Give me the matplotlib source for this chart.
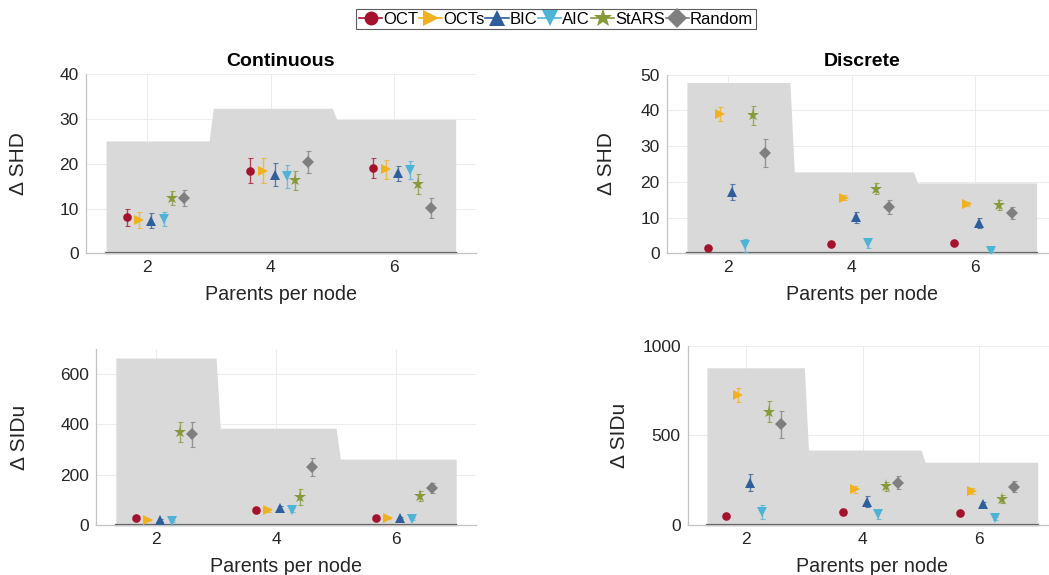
import numpy as np
import matplotlib
matplotlib.use("Agg")
import matplotlib.pyplot as plt
from matplotlib.lines import Line2D

plt.rcParams["font.family"] = ["Liberation Sans", "DejaVu Sans"]

methods = ["OCT", "OCTs", "BIC", "AIC", "StARS", "Random"]
colors = ["#A5122E", "#EFB21E", "#2E5E9C", "#4DB4D6", "#879A3A", "#7F7F7F"]
markers = ["o", ">", "^", "v", "*", "D"]
offsets = [-0.335, -0.13, 0.065, 0.265, 0.395, 0.6]

parents = [2, 4, 6]

# gray envelope (max per parent count)
env_x = [1.33, 3.0, 3.07, 5.0, 5.07, 7.0]
cont_shd_env = [25.1, 32.4, 29.9]
disc_shd_env = [47.8, 22.8, 19.7]
cont_sid_env = [664, 385, 262]
disc_sid_env = [877, 418, 350]

# rows: methods, cols: parents 2, 4, 6
cont_shd = [[8.1, 18.4, 19.1],
            [7.4, 18.4, 18.8],
            [7.3, 17.6, 17.9],
            [7.6, 17.2, 18.6],
            [12.4, 16.3, 15.5],
            [12.4, 20.4, 10.2]]
cont_shd_err = [[1.9, 2.8, 2.2],
                [1.8, 2.8, 2.1],
                [1.7, 2.5, 1.7],
                [1.6, 2.5, 2.1],
                [1.6, 2.1, 2.2],
                [1.8, 2.4, 2.2]]

disc_shd = [[1.4, 2.7, 2.8],
            [39.0, 15.6, 13.8],
            [17.1, 10.1, 8.4],
            [2.2, 2.8, 0.7],
            [38.6, 18.1, 13.5],
            [28.1, 13.0, 11.3]]
disc_shd_err = [[0.3, 0.3, 0.3],
                [1.9, 0.8, 0.6],
                [2.2, 1.5, 1.4],
                [1.9, 1.3, 0.4],
                [2.7, 1.5, 1.4],
                [3.8, 1.9, 1.8]]

cont_sid = [[27, 58, 27],
            [20, 58, 27],
            [20, 66, 28],
            [16, 58, 23],
            [369, 111, 115],
            [361, 230, 146]]
cont_sid_err = [[5, 10, 5],
                [4, 8, 4],
                [4, 10, 4],
                [4, 8, 4],
                [40, 33, 20],
                [50, 35, 20]]

disc_sid = [[50, 72, 69],
            [725, 199, 190],
            [236, 130, 115],
            [74, 61, 37],
            [632, 217, 145],
            [562, 236, 214]]
disc_sid_err = [[8, 15, 8],
                [40, 18, 15],
                [47, 30, 15],
                [40, 25, 8],
                [60, 25, 20],
                [75, 35, 30]]

W, H = 1049, 575
fig = plt.figure(figsize=(W / 100, H / 100), dpi=100)


def px_axes(left, bottom_px, right, top_px):
    return fig.add_axes([left / W, 1 - bottom_px / H, (right - left) / W, (bottom_px - top_px) / H])


panels = [
    (px_axes(85.7, 253.3, 476, 74.3), cont_shd, cont_shd_err, cont_shd_env, (0, 40), [0, 10, 20, 30, 40],
     "\u0394 SHD", "Continuous", -0.148),
    (px_axes(666.6, 253.3, 1057, 74.7), disc_shd, disc_shd_err, disc_shd_env, (0, 50), [0, 10, 20, 30, 40, 50],
     "\u0394 SHD", "Discrete", -0.13),
    (px_axes(96, 525, 476, 349), cont_sid, cont_sid_err, cont_sid_env, (0, 700), [0, 200, 400, 600],
     "\u0394 SIDu", None, -0.176),
    (px_axes(687.7, 525, 1057, 345.7), disc_sid, disc_sid_err, disc_sid_env, (0, 1000), [0, 500, 1000],
     "\u0394 SIDu", None, -0.159),
]

sizes = {"o": 6.2, ">": 7.2, "^": 7.2, "v": 7.2, "*": 9.5, "D": 5.8}

for ax, vals, errs, env, ylim, yticks, ylabel, title, ylx in panels:
    env_y = [env[0], env[0], env[1], env[1], env[2], env[2]]
    ax.fill_between(env_x, env_y, 0, color="#d9d9d9", lw=0, zorder=1)
    ax.plot([env_x[0], env_x[-1]], [0, 0], color="#5a5a5a", lw=1.6, zorder=2, clip_on=False)

    for i in range(len(methods)):
        xs = np.array(parents) + offsets[i]
        ax.errorbar(xs, vals[i], yerr=errs[i], fmt="none", ecolor=colors[i], elinewidth=1.0,
                    capsize=1.8, capthick=0.8, alpha=0.75, zorder=3)
        ax.plot(xs, vals[i], linestyle="none", marker=markers[i], color=colors[i],
                markersize=sizes[markers[i]], markeredgewidth=0, zorder=4)

    ax.set_xlim(1, 7.33)
    ax.set_ylim(*ylim)
    ax.set_xticks(parents)
    ax.set_yticks(yticks)
    ax.grid(True, color="#ececec", lw=0.7, zorder=0)
    ax.set_axisbelow(True)
    for s in ["top", "right"]:
        ax.spines[s].set_visible(False)
    for s in ["left", "bottom"]:
        ax.spines[s].set_color("#c4c4c4")
        ax.spines[s].set_linewidth(0.9)
    ax.tick_params(length=0, labelsize=12.5, labelcolor="#262626", pad=5)
    ax.set_xlabel("Parents per node", fontsize=14.2, color="#262626", labelpad=7)
    ax.set_ylabel(ylabel, fontsize=15, color="#262626")
    ax.yaxis.set_label_coords(ylx, 0.5)
    if title:
        ax.set_title(title, fontsize=14, fontweight="bold", pad=6)

handles = [Line2D([0], [0], color=c, marker=m, markersize=(14 if m == "*" else 11 if m in "^v>" else 10),
                  markeredgewidth=0, lw=1.2) for c, m in zip(colors, markers)]
leg = fig.legend(handles, methods, loc="center", bbox_to_anchor=(556 / W, 1 - 19 / H), ncol=6,
                 fontsize=12, frameon=True, fancybox=False, handlelength=1.4,
                 handletextpad=0.05, columnspacing=0.05, borderpad=0.15, borderaxespad=0)
leg.get_frame().set_edgecolor("#333333")
leg.get_frame().set_linewidth(0.8)

fig.savefig("out.png", dpi=100)
